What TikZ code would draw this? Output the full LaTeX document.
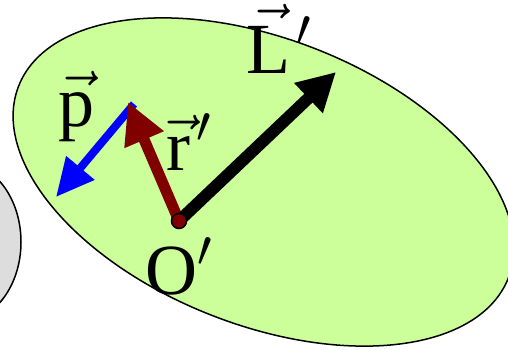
\documentclass[tikz,border=0pt]{standalone}
\usepackage{fontspec}
\setmainfont{Liberation Serif}
\usepackage{graphicx}
\usepackage{tikz}
\usetikzlibrary{arrows.meta}
\definecolor{bodygreen}{RGB}{204,255,153}
\definecolor{bodygray}{RGB}{221,221,221}
\definecolor{darkred}{RGB}{128,0,0}
\newcommand{\biglbl}[1]{\scalebox{3}{#1}}
\newcommand{\vecltr}[1]{\smash{\vec{\mbox{#1}}}\vphantom{\mbox{L}}\kern2pt}

\begin{document}
\begin{tikzpicture}[x=1pt, y=1pt,
  body/.style={draw=black, line width=1.5pt},
  lbl/.style={inner sep=0pt, anchor=base west, font=\fontsize{24}{28}\selectfont},
  vecL/.style={line width=12pt, -{Triangle[length=38pt, width=39pt]}},
  vecR/.style={darkred, line width=11pt, -{Triangle[length=41pt, width=40pt]}},
  vecP/.style={blue, line width=8pt, -{Triangle[length=38pt, width=35pt]}},
  dot/.style={circle, draw=black, line width=1.5pt, fill=darkred, minimum size=15pt, inner sep=0pt}]
\useasboundingbox (0,0) rectangle (508,349);
\clip (0,0) rectangle (508,349);
% bodies
\fill[bodygray, body] (-40,107) ellipse [x radius=61, y radius=80];
\fill[bodygreen, body] (263.5,167) ellipse [x radius=263, y radius=143, rotate=-21.4];
% points
\coordinate (o) at (179,128);
\coordinate (ltip) at (336,277);
\coordinate (rtip) at (128,247);
\coordinate (pstart) at (134,245);
\coordinate (ptip) at (56,152);
% vectors
\draw[vecP] (pstart) -- (ptip);
\draw[vecR] (o) -- (rtip);
\draw[vecL] (o) -- (ltip);
\node[dot] (odot) at (o) {};
% labels
\node[lbl] (lL) at (246,276) {\biglbl{${\vecltr{L}}'$}};
\node[lbl] (lp) at (58,223) {\biglbl{$\vec{\mbox{p}}$}};
\node[lbl] (lr) at (166,179) {\biglbl{${\vecltr{r}}'$}};
\node[lbl] (lO) at (145,55) {\biglbl{O$'$}};
\end{tikzpicture}
\end{document}
